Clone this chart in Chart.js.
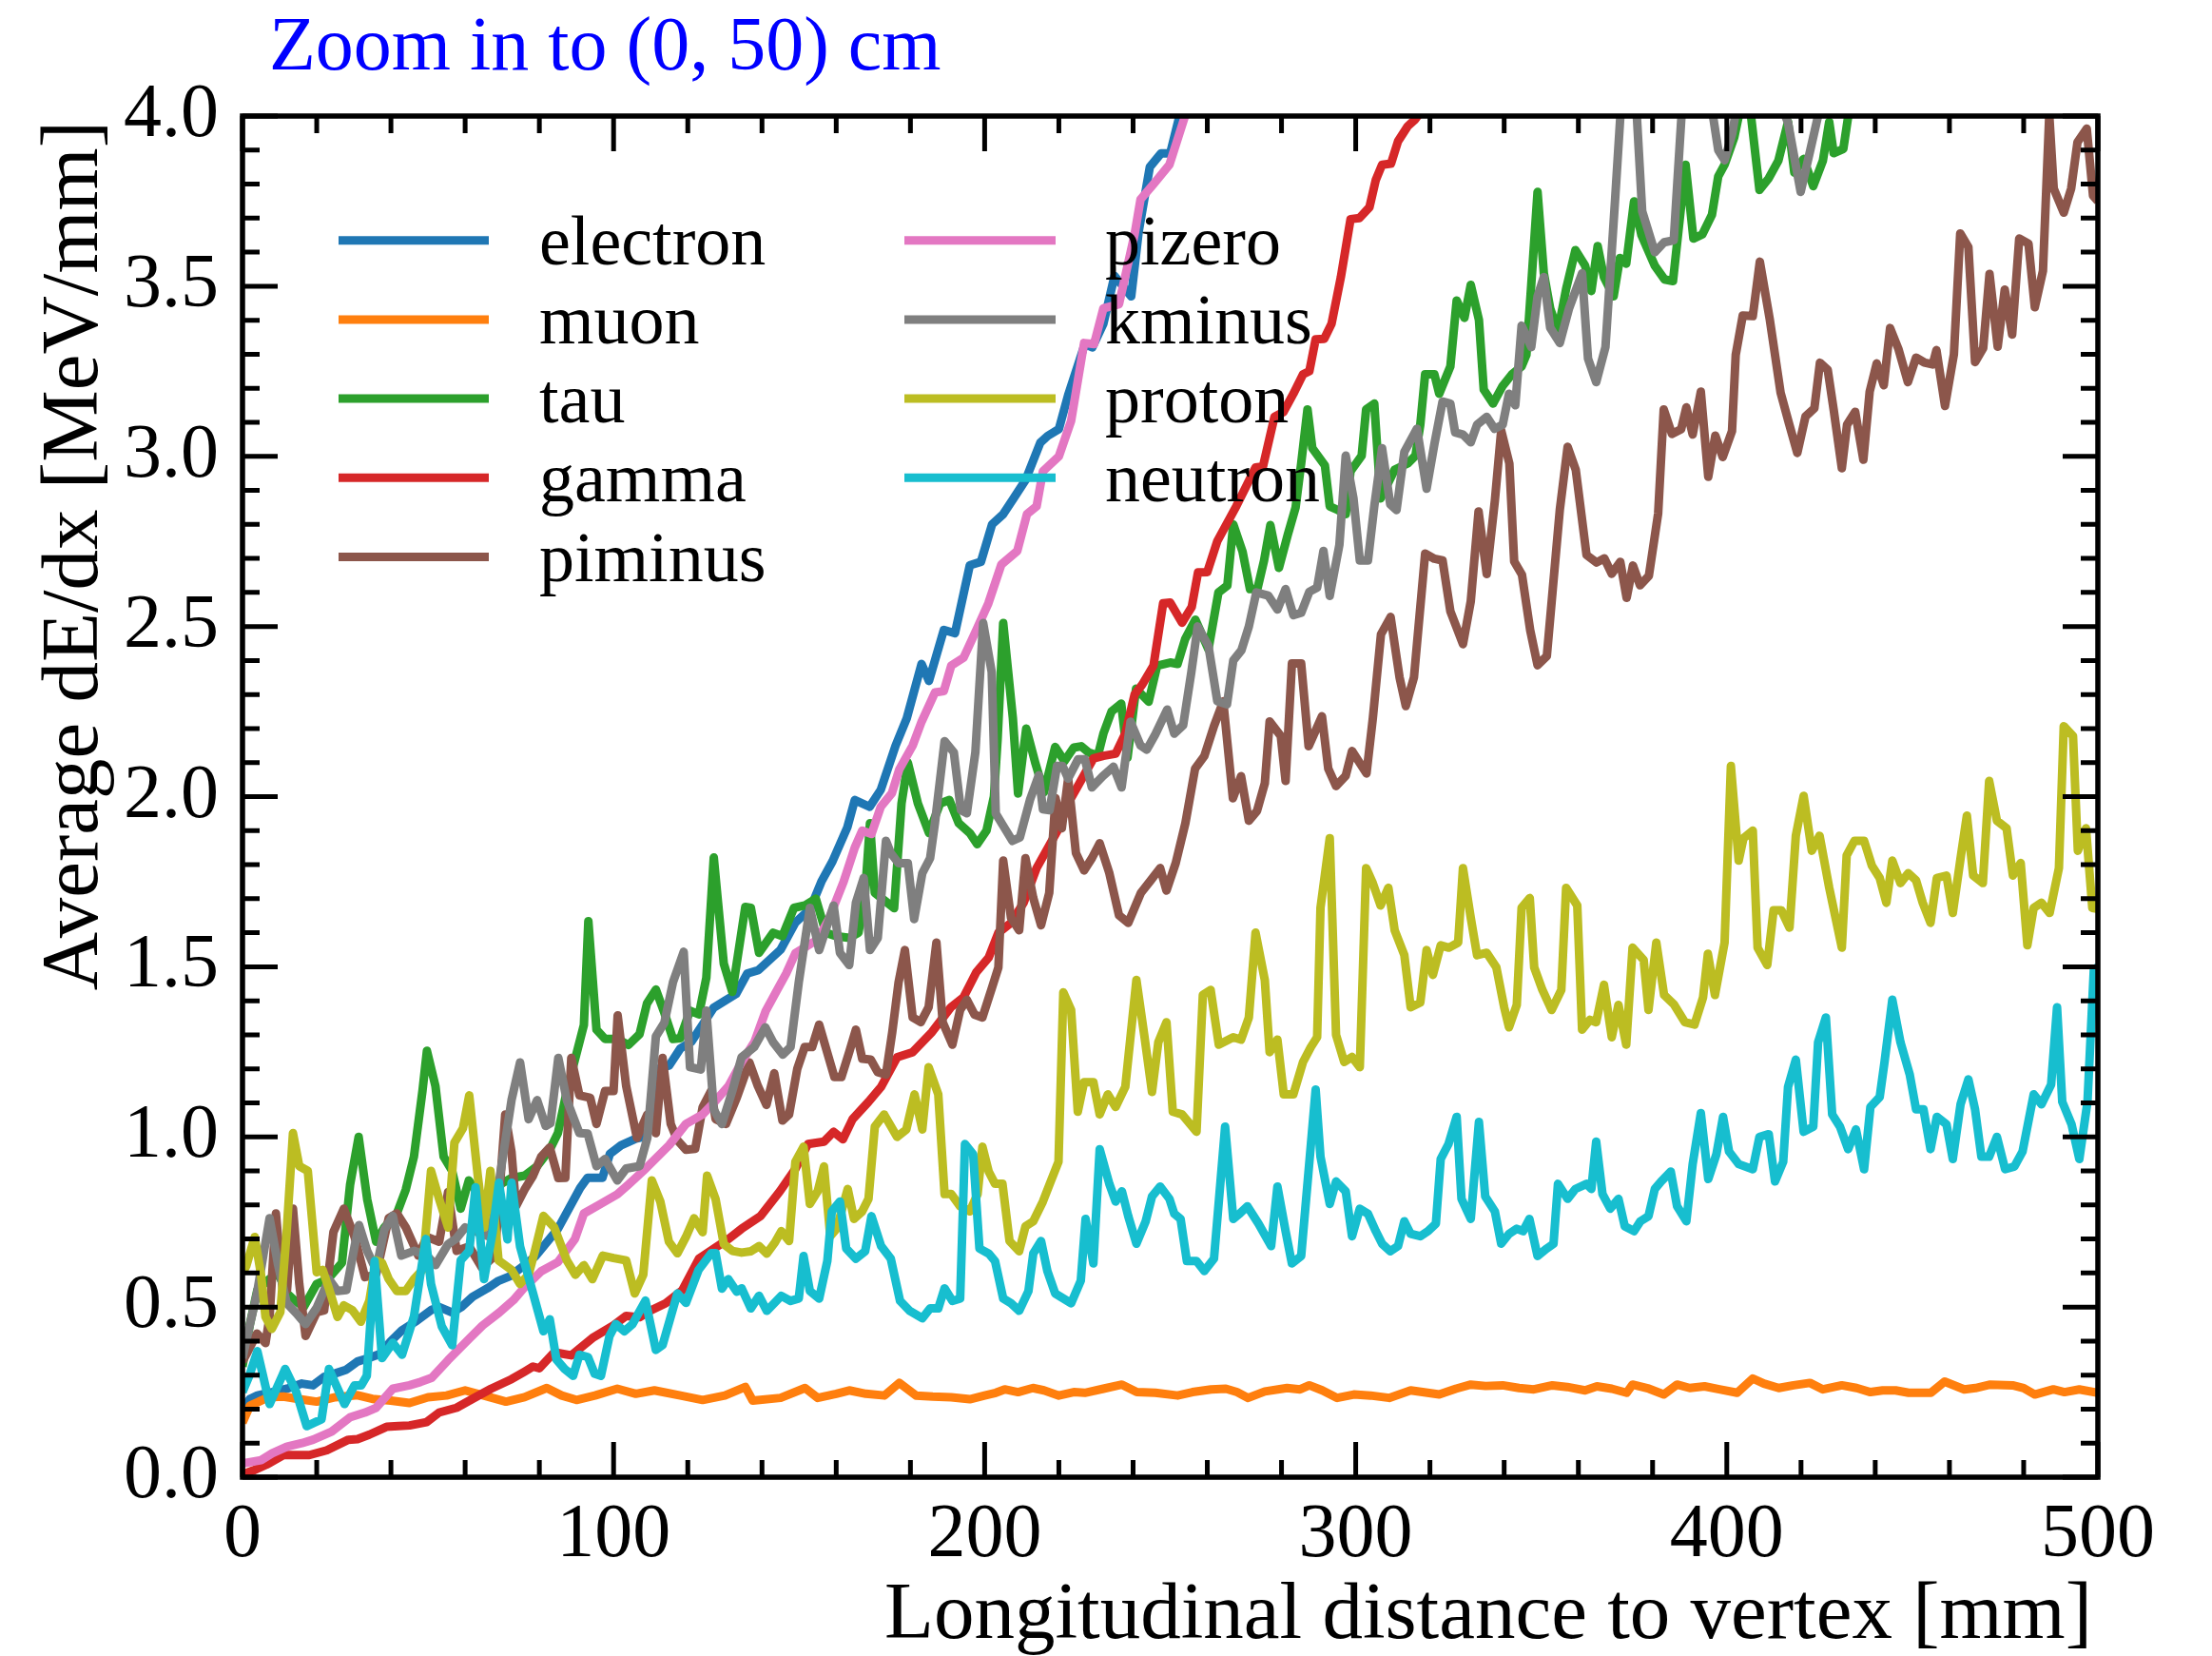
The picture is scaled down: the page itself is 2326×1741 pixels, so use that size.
<!DOCTYPE html>
<html>
<head>
<meta charset="utf-8">
<script src="https://cdn.jsdelivr.net/npm/chart.js@4.4.1/dist/chart.umd.min.js"></script>
<style>
html,body{margin:0;padding:0;background:#ffffff;}
canvas{display:block;}
</style>
</head>
<body>
<canvas id="c" width="2326" height="1741" style="width:2326px;height:1741px"></canvas>
<script>
// ---------------- DATA (x = longitudinal distance [mm], y = average dE/dx [MeV/mm]) ----------------
const titleText = 'Zoom in to (0, 50) cm';
const xTitle = 'Longitudinal distance to vertex [mm]';
const yTitle = 'Average dE/dx [MeV/mm]';
const xTickValues = [0, 100, 200, 300, 400, 500];
const yTickValues = [0, 0.5, 1.0, 1.5, 2.0, 2.5, 3.0, 3.5, 4.0];

const seriesNames = ['electron', 'muon', 'tau', 'gamma', 'piminus', 'pizero', 'kminus', 'proton', 'neutron'];
const seriesColors = ['#1f77b4', '#ff7f0e', '#2ca02c', '#d62728', '#8c564b', '#e377c2', '#7f7f7f', '#bcbd22', '#17becf'];

const electron = [[0,0.20],[2,0.23],[4,0.24],[8,0.25],[12,0.26],[16,0.275],[19,0.27],[22,0.295],[25,0.305],[28,0.316],[31,0.34],[34,0.35],[37,0.362],[40,0.40],[43,0.432],[47,0.46],[51,0.492],[53,0.50],[56.5,0.484],[59,0.50],[62,0.53],[66,0.555],[69,0.577],[72,0.59],[76,0.623],[79,0.65],[82,0.69],[85,0.73],[88,0.79],[91,0.85],[93,0.88],[97,0.88],[99,0.95],[102,0.975],[106,0.995],[108,1.0],[110,1.08],[112,1.2],[115,1.21],[118,1.26],[121,1.28],[124,1.33],[127,1.38],[130,1.40],[133,1.42],[136,1.48],[139,1.49],[142,1.52],[145,1.55],[149,1.63],[153,1.67],[156,1.75],[159,1.81],[163,1.91],[165,1.99],[169,1.97],[172,2.02],[176,2.15],[179,2.23],[183,2.39],[185,2.34],[189,2.49],[192,2.48],[196,2.68],[199,2.69],[202,2.80],[205,2.83],[208,2.88],[211,2.93],[215,3.04],[217,3.06],[220,3.08],[222.5,3.18],[227,3.33],[229,3.32],[232,3.39],[235,3.53],[239.5,3.47],[241.5,3.66],[244.5,3.85],[247.5,3.89],[250,3.89],[252.5,4.0],[256,4.15],[260,4.3]];

const muon = [[0,0.16],[2,0.21],[4,0.22],[7,0.235],[11,0.237],[15,0.23],[20,0.222],[25,0.235],[31,0.241],[35,0.23],[40,0.225],[45,0.218],[50,0.235],[55,0.24],[60,0.255],[65,0.24],[71,0.222],[76,0.235],[82,0.262],[86,0.24],[90,0.227],[95,0.24],[101,0.26],[106,0.245],[111,0.255],[118,0.24],[124,0.227],[130,0.24],[135.5,0.265],[137.5,0.225],[145,0.233],[151.6,0.262],[155,0.233],[160,0.245],[163.5,0.255],[168,0.245],[173,0.24],[177,0.277],[181.5,0.24],[186,0.237],[191,0.235],[196,0.229],[200,0.24],[203,0.248],[205.4,0.258],[209,0.25],[213,0.262],[216,0.255],[220,0.24],[224,0.25],[227,0.248],[232,0.26],[237,0.272],[241,0.25],[246,0.248],[252,0.24],[256,0.25],[261,0.258],[265,0.26],[268,0.25],[271,0.233],[275.5,0.252],[281.5,0.262],[285,0.258],[287.5,0.27],[291,0.255],[295,0.233],[299.5,0.243],[304,0.24],[309,0.233],[314.8,0.255],[318,0.25],[322.5,0.243],[327,0.26],[331,0.272],[335,0.268],[339.6,0.27],[344,0.262],[348,0.258],[353,0.27],[357,0.265],[361.8,0.255],[365,0.267],[369,0.26],[373,0.248],[374.6,0.272],[379,0.26],[383,0.243],[386.6,0.272],[390,0.262],[394,0.267],[398,0.258],[402.8,0.248],[407,0.29],[410,0.275],[414,0.262],[418,0.27],[422.4,0.277],[425.9,0.258],[431,0.27],[435,0.262],[438.7,0.25],[442,0.255],[445.5,0.255],[449,0.248],[455,0.248],[458.7,0.281],[464,0.258],[467,0.262],[471,0.272],[477,0.27],[480,0.262],[483,0.243],[488,0.258],[491,0.25],[495,0.258],[500,0.248]];

const tau = [[0,0.325],[2,0.45],[4,0.55],[7,0.58],[9.6,0.60],[12,0.54],[14,0.52],[16.5,0.50],[20,0.568],[23,0.582],[26.8,0.63],[29,0.86],[31.3,1.0],[33.6,0.817],[36,0.692],[38.2,0.734],[41.6,0.775],[44,0.845],[46.2,0.942],[48.5,1.135],[49.7,1.253],[52,1.149],[54.2,0.942],[56.5,0.90],[58.8,0.789],[61,0.872],[64.5,0.817],[69,0.858],[72.5,0.879],[76,0.886],[79.4,0.914],[82.8,0.962],[85,1.011],[87.4,1.135],[89.7,1.232],[92,1.329],[93.2,1.634],[95.4,1.315],[97.7,1.288],[101,1.288],[104,1.27],[107,1.302],[109,1.392],[111.4,1.433],[113.7,1.364],[116,1.288],[118,1.29],[120.6,1.371],[123,1.36],[125,1.468],[127,1.821],[129.7,1.509],[132,1.426],[135.5,1.676],[137,1.673],[139.2,1.541],[143,1.60],[145.5,1.59],[148.6,1.673],[151.5,1.68],[154.5,1.70],[157.2,1.60],[160,1.59],[163.5,1.585],[166,1.60],[167.8,1.717],[169.1,1.922],[170.4,1.717],[173.8,1.688],[175.6,1.672],[177.6,1.98],[179.3,2.10],[182,1.98],[185,1.893],[188,1.98],[190.5,1.99],[193,1.922],[196,1.893],[198,1.86],[200.5,1.90],[202.5,2.0],[203.5,2.17],[205,2.51],[207.6,2.231],[209,2.009],[211.2,2.20],[213.7,2.097],[216,2.013],[219,2.146],[221.5,2.104],[224,2.144],[226,2.148],[228,2.13],[230.5,2.12],[232,2.185],[234.2,2.25],[236.8,2.273],[238.5,2.115],[240.8,2.317],[244.2,2.279],[246.5,2.385],[250,2.394],[252,2.39],[254,2.462],[256.8,2.52],[260.3,2.433],[263,2.60],[265.4,2.62],[267,2.80],[269.5,2.72],[271.5,2.61],[273.5,2.61],[275.3,2.694],[277,2.798],[279.3,2.672],[281.7,2.77],[283.8,2.85],[285.3,2.979],[287,3.138],[288.3,3.024],[291.7,2.973],[293,2.853],[295.2,2.842],[297.3,2.83],[298.6,2.956],[301.6,3.002],[302.8,3.138],[305,3.155],[306.7,2.876],[310.5,2.961],[314,2.979],[316.1,3.002],[317.4,3.093],[318.7,3.241],[321.2,3.241],[322.5,3.184],[325.5,3.264],[327.2,3.458],[329.3,3.407],[331,3.504],[333.2,3.401],[334.5,3.196],[337,3.155],[339.6,3.207],[342.1,3.241],[344.7,3.264],[346,3.298],[347.3,3.504],[349,3.777],[350.7,3.538],[352.4,3.435],[354.5,3.367],[356.7,3.492],[359.2,3.606],[361.8,3.561],[363.5,3.486],[365.2,3.618],[366.9,3.526],[369.5,3.47],[371.2,3.583],[372.9,3.566],[375,3.749],[377,3.65],[380.6,3.56],[383.2,3.52],[385.5,3.515],[388.9,3.857],[391,3.64],[393.4,3.652],[396,3.71],[397.7,3.823],[399.4,3.857],[402,3.937],[403.6,4.02],[406,4.05],[408.8,3.783],[411.3,3.817],[413.9,3.869],[416.5,3.983],[418.2,3.834],[420.7,3.874],[423.3,3.794],[425.9,3.869],[427.6,3.983],[428.8,3.891],[431.4,3.903],[433,4.02],[436,4.1],[440,4.15],[450,4.2],[460,4.25],[470,4.3],[480,4.3],[490,4.35],[500,4.4]];

const gamma = [[0,0.008],[3,0.02],[6.5,0.037],[11,0.065],[14,0.065],[18,0.065],[22.7,0.079],[28.5,0.11],[31,0.112],[34.2,0.125],[38.8,0.148],[42,0.15],[45,0.152],[49.6,0.162],[53,0.19],[57.7,0.204],[62.3,0.232],[67,0.26],[72.5,0.288],[76,0.31],[78.3,0.325],[80,0.32],[84,0.367],[88.6,0.358],[94.3,0.409],[100,0.446],[103.4,0.474],[107,0.47],[110,0.49],[114,0.511],[118.5,0.549],[123,0.642],[127.5,0.675],[131,0.70],[134.5,0.73],[139.6,0.767],[144.8,0.84],[149,0.906],[152.4,0.979],[156.7,0.986],[159.3,1.015],[161.8,0.993],[164.4,1.052],[168.7,1.103],[172.1,1.147],[176.4,1.234],[180.6,1.249],[185.8,1.308],[190.9,1.381],[194.3,1.41],[197.7,1.483],[201.1,1.527],[203.7,1.60],[207.1,1.629],[210.5,1.688],[214,1.79],[217.4,1.856],[220,1.907],[222.5,1.98],[225.9,2.046],[229.3,2.112],[232,2.12],[235.3,2.126],[237.9,2.185],[240.4,2.30],[242.5,2.33],[245.5,2.385],[248.1,2.568],[250,2.57],[253.2,2.511],[255.8,2.557],[257.5,2.659],[260,2.66],[262.7,2.751],[267.8,2.853],[273,2.967],[275,2.97],[278.1,3.116],[280.5,3.13],[283.2,3.184],[285.8,3.241],[287.5,3.25],[289.2,3.344],[291.5,3.345],[293.5,3.39],[296,3.527],[298.6,3.697],[301,3.70],[303.7,3.732],[305.4,3.812],[307.1,3.857],[309.5,3.86],[311.4,3.926],[314,3.97],[316,3.99],[318,4.02],[322,4.2],[326,4.35]];

const piminus = [[0,0.34],[1,0.36],[3.9,0.422],[6.2,0.394],[7.3,0.471],[9,0.775],[10.8,0.554],[12,0.55],[13.6,0.789],[15.3,0.568],[17,0.415],[20,0.485],[22,0.49],[24.5,0.72],[27.3,0.789],[30.2,0.706],[33,0.588],[36,0.595],[39.4,0.761],[41.6,0.775],[44,0.734],[47.4,0.651],[49.7,0.706],[53,0.692],[55.4,0.838],[57.7,0.665],[61.1,0.678],[64.5,0.616],[68,0.651],[70.8,1.066],[72.5,0.955],[73.7,0.796],[76,0.845],[78.3,0.886],[80.5,0.942],[82.8,0.969],[85.1,0.879],[87,0.88],[88.6,1.232],[90.8,1.122],[93.7,1.115],[95.4,1.038],[97.7,1.135],[100,1.135],[101.1,1.357],[103.4,1.149],[106.3,0.997],[109.1,1.066],[111.4,1.011],[113.2,1.232],[115.4,1.038],[117.2,0.99],[119.5,0.962],[122,0.965],[124,1.087],[126.3,1.135],[127.5,1.052],[130.3,1.038],[133.2,1.115],[136.6,1.219],[138.9,1.149],[141.2,1.094],[143.3,1.187],[145.5,1.048],[147.3,1.066],[149.5,1.2],[151.5,1.264],[153.5,1.264],[155.4,1.33],[157.8,1.24],[159.5,1.176],[161.4,1.176],[163.5,1.249],[165.3,1.315],[167,1.23],[169.3,1.227],[171.2,1.19],[173.4,1.183],[175.1,1.308],[176.8,1.454],[178.5,1.549],[180.6,1.351],[182.8,1.337],[184.9,1.381],[187,1.571],[188.7,1.337],[191.3,1.271],[193.4,1.373],[195.2,1.403],[197.3,1.359],[199.4,1.351],[202,1.439],[203.7,1.498],[205,1.812],[207.1,1.644],[209.3,1.607],[211,1.819],[213.1,1.702],[215.2,1.622],[217.4,1.717],[219.1,1.995],[220.8,1.907],[222.5,2.053],[224.6,1.834],[226.8,1.783],[228.9,1.819],[231,1.863],[233.6,1.775],[236.2,1.651],[238.7,1.629],[242.1,1.717],[244.7,1.753],[247.3,1.79],[249,1.724],[251.5,1.805],[254.1,1.922],[256.7,2.082],[259.2,2.119],[261.8,2.207],[264.3,2.28],[266.9,1.995],[269.1,2.06],[271.2,1.929],[273.4,1.958],[275.5,2.039],[276.8,2.221],[279.8,2.178],[281.1,2.046],[282.8,2.391],[285.3,2.391],[287.3,2.148],[290.9,2.236],[292.6,2.082],[294.7,2.031],[297.3,2.061],[299,2.134],[302.9,2.068],[304.6,2.229],[306.8,2.477],[309.4,2.528],[311.8,2.351],[313.5,2.266],[315.7,2.351],[318.7,2.714],[321.2,2.699],[323.4,2.694],[325.5,2.545],[328.9,2.448],[331,2.574],[333.1,2.838],[335.3,2.654],[337.5,2.87],[339.2,3.076],[341.4,2.979],[342.7,2.691],[344.8,2.652],[347,2.49],[349,2.386],[351.5,2.413],[353.1,2.61],[355,2.843],[357.1,3.028],[359.3,2.96],[362.2,2.71],[364.9,2.688],[367,2.7],[369,2.655],[371.3,2.69],[373,2.584],[374.7,2.679],[376.6,2.621],[379,2.649],[381.5,2.832],[383,3.138],[385.2,3.066],[387.7,3.08],[389.1,3.144],[390.8,3.064],[393,3.19],[395,2.94],[396.9,3.061],[398.9,2.998],[401.4,3.074],[402.4,3.298],[404.3,3.414],[407,3.412],[408.9,3.572],[411.6,3.401],[414.5,3.187],[416.8,3.095],[419,3.01],[421.2,3.117],[423.6,3.141],[425.1,3.275],[427.2,3.254],[428.8,3.137],[431,2.965],[432.4,3.093],[434.6,3.131],[436.8,2.99],[438.5,3.19],[440.4,3.273],[442.3,3.209],[444,3.377],[446.3,3.314],[448.8,3.218],[451,3.29],[453.2,3.276],[455.5,3.27],[456.5,3.312],[458.8,3.148],[461.2,3.3],[462.9,3.655],[465.1,3.615],[466.9,3.277],[469.1,3.318],[470.8,3.536],[473,3.322],[474.9,3.49],[476.9,3.358],[478.8,3.64],[481.3,3.625],[483,3.438],[485.2,3.545],[486.9,4.004],[488.1,3.787],[490.8,3.716],[492.8,3.787],[494.5,3.923],[497,3.963],[498.7,3.766],[500,3.75]];

const pizero = [[0,0.04],[5,0.05],[8,0.07],[12,0.09],[16,0.10],[19,0.11],[24,0.134],[29,0.176],[33,0.19],[36,0.204],[40.5,0.26],[45,0.27],[48,0.28],[51,0.292],[55.4,0.344],[61.3,0.409],[64.7,0.446],[69.2,0.484],[73,0.52],[76,0.558],[80.5,0.605],[85,0.632],[89.6,0.70],[92,0.775],[96,0.80],[101,0.831],[104,0.86],[108,0.90],[115,0.976],[119.5,1.038],[124,1.066],[127,1.10],[131,1.15],[134.5,1.22],[138,1.28],[141,1.37],[144,1.43],[146.5,1.48],[149,1.54],[152,1.56],[155,1.58],[158,1.64],[162,1.75],[165,1.85],[167,1.90],[169.5,1.89],[172,1.97],[175,2.01],[177,2.08],[180.6,2.15],[183,2.22],[186.6,2.306],[189,2.31],[191,2.385],[194.3,2.408],[197.7,2.488],[201,2.568],[204.5,2.682],[208.8,2.722],[211.4,2.83],[214,2.853],[215.7,2.956],[220,3.0],[223.3,3.104],[226.8,3.333],[229.5,3.33],[232,3.435],[236.2,3.447],[240.4,3.652],[242,3.755],[245.5,3.80],[249.8,3.857],[254,4.0],[258,4.15],[262,4.3]];

const kminus = [[0,0.35],[1,0.40],[3.9,0.54],[7.3,0.761],[9.6,0.623],[11.9,0.512],[14.8,0.478],[17,0.45],[20,0.498],[23.3,0.582],[25.6,0.547],[28,0.55],[30.2,0.678],[31.4,0.741],[33.6,0.665],[36,0.609],[38.2,0.727],[40.5,0.768],[42.8,0.651],[46.2,0.665],[49.7,0.651],[52,0.623],[55.4,0.685],[57.5,0.70],[60,0.734],[63.4,0.72],[66.8,0.706],[69,0.858],[72.5,1.108],[74.8,1.219],[77.1,1.052],[79.4,1.108],[81.7,1.032],[83,1.04],[85.1,1.232],[87.4,1.108],[90.8,1.011],[93,1.01],[95.4,0.914],[97.7,0.935],[101,0.872],[103.4,0.907],[107,0.914],[109.1,0.997],[111.4,1.295],[113.7,1.336],[116,1.454],[118.9,1.544],[120.6,1.205],[123.5,1.198],[125,1.371],[127,1.08],[129.2,1.038],[132,1.135],[134.5,1.234],[137.9,1.264],[140.9,1.322],[143,1.278],[145.6,1.242],[147.7,1.264],[149.9,1.454],[152.9,1.673],[155.4,1.549],[159.3,1.68],[161,1.541],[163.5,1.505],[165.3,1.688],[167.4,1.761],[169.1,1.549],[171.2,1.585],[173.4,1.87],[174.7,1.834],[176.8,1.804],[179.3,1.804],[181,1.64],[183.2,1.775],[185.3,1.819],[186.6,1.922],[189.2,2.163],[191.7,2.13],[193.6,1.96],[195.2,1.951],[197.5,2.13],[199.6,2.51],[201.9,2.366],[203,1.95],[205.4,1.907],[207.5,1.87],[209.5,1.88],[212.2,1.99],[214.6,2.063],[215.7,1.963],[217.5,1.96],[219.5,2.09],[221,2.09],[222.5,2.053],[225.2,2.11],[227,2.11],[228.9,2.027],[231.8,2.06],[234.7,2.088],[236.9,2.027],[239.3,2.22],[242,2.15],[243.7,2.138],[246,2.183],[249.2,2.256],[251.1,2.185],[253.5,2.21],[255.7,2.366],[257.4,2.50],[260.3,2.443],[262.7,2.28],[265.3,2.271],[267,2.40],[269.2,2.43],[271.2,2.50],[273.2,2.60],[276.4,2.591],[278.9,2.55],[281.1,2.61],[283.2,2.533],[285.3,2.54],[287.5,2.602],[289.6,2.614],[291.3,2.722],[293,2.59],[295.6,2.74],[297.3,3.002],[299.4,2.876],[301.1,2.694],[303.3,2.694],[305,2.853],[307.1,3.024],[309.3,2.859],[311,2.842],[313.1,3.013],[316.5,3.081],[319.1,2.905],[321.2,3.036],[323.4,3.161],[325.5,3.155],[326.8,3.07],[328.9,3.064],[331,3.041],[332.7,3.093],[335.3,3.116],[337.4,3.081],[339.6,3.093],[341.3,3.184],[343,3.15],[344.7,3.384],[347.3,3.321],[349,3.47],[350.7,3.527],[352.4,3.378],[355,3.333],[357.5,3.435],[361,3.538],[362.6,3.287],[364.8,3.218],[367.3,3.321],[369.9,3.755],[371.6,4.05],[373.5,4.2],[375.5,4.05],[377.2,3.72],[380.6,3.60],[383.1,3.629],[385.7,3.635],[387.9,4.02],[390,4.2],[394,4.2],[396,4.02],[397.7,3.90],[399.4,3.87],[401.5,3.95],[403,4.05],[408,4.2],[414,4.05],[416.5,3.98],[419.9,3.777],[422.5,3.9],[425,4.02],[430,4.2],[440,4.3],[460,4.4],[480,4.45],[500,4.5]];

const proton = [[0,0.60],[1,0.62],[3.3,0.706],[5,0.595],[6.2,0.471],[7.9,0.436],[10.2,0.485],[11.9,0.72],[13.6,1.011],[15.3,0.914],[17.6,0.90],[20,0.602],[21.6,0.609],[23.3,0.554],[25.6,0.471],[27.3,0.505],[29.6,0.491],[31.9,0.457],[34.2,0.519],[36,0.637],[37.6,0.63],[39.4,0.582],[41.6,0.547],[44,0.547],[46.2,0.582],[48.5,0.609],[50.8,0.90],[53,0.817],[55.4,0.734],[57.1,0.983],[59.4,1.025],[61.1,1.122],[63.4,0.886],[65.1,0.734],[66.8,0.90],[69,0.637],[72.5,0.609],[74.8,0.568],[77.1,0.595],[78.8,0.665],[81.1,0.768],[84,0.734],[87.4,0.637],[89.7,0.595],[92,0.623],[94.3,0.582],[97.1,0.651],[100,0.644],[103.4,0.637],[105.7,0.54],[108,0.595],[110.3,0.872],[112.6,0.81],[114.9,0.692],[117.2,0.658],[119.5,0.706],[121.7,0.761],[124,0.72],[125.2,0.886],[127.5,0.817],[129.7,0.685],[132,0.665],[134.5,0.66],[137,0.664],[139.2,0.679],[141.3,0.657],[143.5,0.69],[145.2,0.723],[147.3,0.694],[149,0.927],[151.2,0.971],[152.9,0.803],[155,0.84],[156.7,0.913],[158.4,0.708],[160.1,0.73],[163.1,0.847],[164.8,0.759],[167,0.781],[168.7,0.818],[170.4,1.03],[172.9,1.066],[176.4,1.0],[178.9,1.022],[181.1,1.125],[183.2,1.022],[184.9,1.205],[187.5,1.125],[189.2,0.832],[191,0.832],[193.4,0.796],[196,0.781],[198.1,0.832],[199.4,0.971],[201.1,0.898],[202.8,0.862],[204.8,0.862],[206.7,0.694],[209.3,0.664],[211,0.737],[213.1,0.752],[215.7,0.81],[217.8,0.869],[219.9,0.927],[221.2,1.425],[223.3,1.373],[225.1,1.074],[226.8,1.161],[229.3,1.161],[231,1.066],[233.2,1.125],[235.3,1.088],[237.9,1.147],[240.9,1.461],[243,1.30],[245.1,1.132],[246.8,1.278],[249,1.337],[250.7,1.074],[253.2,1.066],[257.1,1.015],[258.8,1.417],[260.9,1.432],[263.1,1.271],[267,1.293],[269.1,1.286],[271.2,1.351],[273,1.60],[275.5,1.461],[276.8,1.249],[278.9,1.286],[280.6,1.125],[283.2,1.125],[285.8,1.22],[287.9,1.264],[289.6,1.293],[290.5,1.673],[293,1.878],[294.7,1.30],[296.9,1.22],[299,1.235],[301.1,1.205],[302.8,1.79],[304.6,1.746],[306.7,1.68],[308.8,1.732],[310.5,1.607],[313.1,1.534],[314.8,1.381],[317.4,1.395],[319.1,1.549],[320.8,1.476],[322.9,1.563],[325.1,1.556],[327.6,1.571],[328.9,1.79],[331,1.644],[332.7,1.534],[335.3,1.541],[337.9,1.498],[340,1.381],[341.3,1.322],[343.4,1.388],[344.7,1.673],[346.9,1.702],[348.1,1.498],[350.3,1.432],[352.8,1.373],[355.4,1.432],[356.7,1.732],[359.7,1.68],[361,1.315],[363.1,1.344],[364.8,1.337],[366.9,1.447],[369,1.293],[370.8,1.388],[372.9,1.271],[374.6,1.556],[377.6,1.52],[378.9,1.373],[381,1.571],[383.1,1.417],[385.7,1.39],[388.7,1.337],[391.3,1.33],[393.6,1.41],[394.9,1.538],[396.8,1.417],[399.4,1.571],[401.1,2.09],[403.2,1.812],[404.5,1.878],[407,1.90],[408.3,1.556],[410.9,1.505],[412.6,1.666],[414.7,1.666],[416.9,1.615],[418.6,1.885],[420.7,2.002],[422.9,1.841],[425,1.885],[427.6,1.732],[431,1.556],[432.3,1.827],[434.4,1.87],[437,1.87],[439.1,1.797],[441.2,1.761],[443,1.688],[444.6,1.812],[446.8,1.746],[448.9,1.775],[451,1.754],[452.8,1.688],[454.9,1.629],[456.6,1.761],[459.2,1.768],[460.9,1.658],[463,1.819],[464.7,1.944],[466.4,1.768],[469,1.746],[470.7,2.046],[472.8,1.929],[475.4,1.907],[477.1,1.768],[479.2,1.805],[481,1.563],[482.7,1.673],[484.8,1.688],[487,1.658],[489.5,1.79],[490.8,2.207],[493.3,2.178],[494.6,1.841],[496.8,1.907],[498.5,1.673],[500,1.67]];

const neutron = [[0,0.25],[1.9,0.30],[4,0.37],[7.3,0.215],[10.8,0.30],[11.5,0.318],[14.5,0.25],[17.3,0.15],[21.3,0.17],[23.3,0.318],[27.5,0.215],[30.2,0.27],[32,0.27],[33.5,0.298],[35.6,0.635],[37.6,0.35],[40.5,0.395],[43,0.36],[46.2,0.472],[49.4,0.70],[50.8,0.568],[53.7,0.443],[56.5,0.388],[58.8,0.637],[61.1,0.665],[62.8,0.852],[65.1,0.582],[67.4,0.72],[69.1,0.865],[71.4,0.699],[72.5,0.865],[74.8,0.678],[78.3,0.54],[81.1,0.429],[82.8,0.464],[84.6,0.346],[86.8,0.318],[89.1,0.298],[90.8,0.36],[93.1,0.353],[94.9,0.304],[96.6,0.298],[98.9,0.415],[100.6,0.45],[102.9,0.429],[105.1,0.45],[108.6,0.519],[111.4,0.374],[113.2,0.388],[117.2,0.54],[119.5,0.512],[122.9,0.609],[126.3,0.658],[127.5,0.658],[129.2,0.554],[130.9,0.582],[133.2,0.545],[134.5,0.555],[137,0.496],[139.2,0.533],[141.3,0.489],[145.2,0.533],[147.7,0.518],[149.9,0.525],[151.2,0.65],[152.9,0.547],[155.4,0.525],[157.6,0.635],[158.8,0.781],[161,0.81],[162.7,0.672],[165.3,0.642],[167.8,0.664],[169.5,0.767],[172.1,0.679],[174.7,0.642],[177.2,0.518],[179.8,0.489],[183.2,0.467],[185.3,0.496],[187.5,0.496],[189.2,0.555],[191.3,0.518],[193.4,0.525],[194.7,0.979],[196.9,0.949],[198.6,0.672],[201.1,0.657],[202.8,0.635],[205,0.525],[207.1,0.511],[209.3,0.489],[211.8,0.547],[213.1,0.657],[215.2,0.694],[216.9,0.606],[219,0.54],[223.3,0.511],[225.9,0.577],[227.2,0.759],[229.3,0.628],[231,0.964],[233.6,0.862],[235.3,0.81],[237,0.84],[238.7,0.767],[240.9,0.686],[243.4,0.752],[245.1,0.825],[247.3,0.854],[249.8,0.818],[251.1,0.774],[252.8,0.759],[254.5,0.635],[257.1,0.635],[259.2,0.606],[261.8,0.642],[264.8,1.03],[267,0.759],[268.7,0.774],[270.8,0.796],[273.8,0.745],[277.2,0.679],[278.9,0.854],[281.1,0.723],[282.8,0.628],[285.3,0.65],[289.2,1.139],[290.5,0.942],[293,0.803],[294.7,0.869],[297.3,0.84],[299,0.708],[301.1,0.789],[303.3,0.774],[305.4,0.723],[307.1,0.686],[309.3,0.664],[311.4,0.679],[313.1,0.752],[314.8,0.715],[317.4,0.708],[319.5,0.723],[321.6,0.745],[322.9,0.935],[325,0.979],[327.2,1.059],[328.5,0.818],[331,0.759],[333.2,1.044],[334.9,0.825],[337.5,0.781],[339.2,0.686],[341.3,0.715],[343.4,0.73],[345.1,0.723],[346.8,0.759],[349,0.65],[351.5,0.672],[353.3,0.686],[354.5,0.862],[357.1,0.818],[359.2,0.847],[362.2,0.862],[363.5,0.847],[364.8,0.986],[366.5,0.832],[368.6,0.789],[370.8,0.818],[372.5,0.737],[375,0.723],[376.7,0.752],[378.9,0.767],[380.6,0.847],[382.3,0.869],[384.9,0.898],[386.6,0.796],[389.1,0.752],[390.8,0.92],[393,1.07],[395,0.876],[397.2,0.949],[399,1.059],[400.6,0.957],[403.2,0.92],[407,0.905],[408.8,1.0],[411.3,1.008],[413,0.869],[415.2,0.927],[416.5,1.147],[418.6,1.227],[420.7,1.015],[423.3,1.03],[424.6,1.278],[426.7,1.351],[428.4,1.066],[430.5,1.03],[432.7,0.964],[434.8,1.022],[437,0.905],[438.7,1.088],[441.2,1.117],[442.5,1.22],[444.6,1.403],[446.8,1.278],[449.3,1.183],[451,1.081],[453,1.081],[454.9,0.964],[456.6,1.059],[459.2,1.037],[460.9,0.935],[463,1.096],[465.1,1.169],[466.9,1.081],[468.6,0.942],[470.7,0.942],[472.8,1.0],[475,0.905],[477.5,0.913],[479.7,0.957],[482.7,1.125],[484.8,1.096],[487.4,1.154],[489,1.381],[490.4,1.103],[492.9,1.037],[495,0.935],[497.2,1.103],[498.9,1.49],[500,1.50]];

const seriesData = [electron, muon, tau, gamma, piminus, pizero, kminus, proton, neutron];

// ---------------- STYLE ----------------
const SERIF = "'Liberation Serif', 'DejaVu Serif', serif";
const LINE_W = 9;

const datasets = seriesNames.map((name, i) => ({
  label: name,
  data: seriesData[i].map(p => ({x: p[0], y: p[1]})),
  borderColor: seriesColors[i],
  backgroundColor: seriesColors[i],
  borderWidth: LINE_W,
  pointRadius: 0,
  pointHoverRadius: 0,
  tension: 0,
  fill: false,
  borderJoinStyle: 'round',
  borderCapStyle: 'butt',
  clip: 0,
  order: seriesNames.length - 1 - i
}));

const decorPlugin = {
  id: 'decor',
  afterDatasetsDraw(chart) {
    const ctx = chart.ctx, a = chart.chartArea;
    const xs = chart.scales.x, ys = chart.scales.y;
    ctx.save();
    ctx.strokeStyle = '#000';
    ctx.lineCap = 'butt';
    ctx.lineWidth = 5;
    ctx.beginPath();
    for (let k = 0; k <= 25; k++) {
      const v = k * 20;
      const len = (k % 5 === 0) ? 37 : 18;
      const px = xs.getPixelForValue(v);
      ctx.moveTo(px, a.bottom); ctx.lineTo(px, a.bottom - len);
      ctx.moveTo(px, a.top); ctx.lineTo(px, a.top + len);
    }
    for (let k = 0; k <= 40; k++) {
      const v = k / 10;
      const len = (k % 5 === 0) ? 37 : 18;
      const py = ys.getPixelForValue(v);
      ctx.moveTo(a.left, py); ctx.lineTo(a.left + len, py);
      ctx.moveTo(a.right, py); ctx.lineTo(a.right - len, py);
    }
    ctx.stroke();
    ctx.lineWidth = 5.5;
    ctx.strokeRect(a.left, a.top, a.right - a.left, a.bottom - a.top);
    ctx.restore();
  },
  afterDraw(chart) {
    const ctx = chart.ctx, a = chart.chartArea;
    ctx.save();
    // title
    ctx.fillStyle = '#0000ff';
    ctx.font = '80px ' + SERIF;
    ctx.textAlign = 'left';
    ctx.textBaseline = 'alphabetic';
    ctx.fillText(titleText, 283, 73);
    // x axis title
    ctx.fillStyle = '#000';
    ctx.font = '85px ' + SERIF;
    ctx.textAlign = 'right';
    ctx.fillText(xTitle, a.right - 6, 1722);
    // y axis title
    ctx.save();
    ctx.translate(102, a.top + 5);
    ctx.rotate(-Math.PI / 2);
    ctx.textAlign = 'right';
    ctx.fillText(yTitle, 0, 0);
    ctx.restore();
    // legend (two columns)
    ctx.font = '74px ' + SERIF;
    ctx.textAlign = 'left';
    const rowY0 = 252.7, rowDy = 83.2;
    const cols = [{x0: 356, x1: 514, tx: 567}, {x0: 951, x1: 1110, tx: 1162}];
    seriesNames.forEach((name, i) => {
      const c = cols[i < 5 ? 0 : 1];
      const r = i < 5 ? i : i - 5;
      const yy = rowY0 + r * rowDy;
      ctx.strokeStyle = seriesColors[i];
      ctx.lineWidth = 9;
      ctx.lineCap = 'butt';
      ctx.beginPath();
      ctx.moveTo(c.x0, yy); ctx.lineTo(c.x1, yy);
      ctx.stroke();
      ctx.fillStyle = '#000';
      ctx.fillText(name, c.tx, yy + 25);
    });
    ctx.restore();
  }
};

new Chart(document.getElementById('c'), {
  type: 'line',
  data: { datasets },
  options: {
    responsive: false,
    maintainAspectRatio: false,
    devicePixelRatio: 1,
    animation: false,
    events: [],
    layout: { padding: { left: 0, right: 120, top: 122, bottom: 0 } },
    plugins: { legend: { display: false }, tooltip: { enabled: false }, title: { display: false } },
    scales: {
      x: {
        type: 'linear', min: 0, max: 500,
        afterFit: s => { s.height = 188; },
        afterBuildTicks: s => { s.ticks = xTickValues.map(v => ({value: v})); },
        grid: { display: false, drawTicks: false },
        border: { display: false },
        ticks: { color: '#000', font: { family: SERIF, size: 80 }, padding: 14, maxRotation: 0, autoSkip: false, callback: v => String(v) }
      },
      y: {
        type: 'linear', min: 0, max: 4,
        afterFit: s => { s.width = 255; },
        afterBuildTicks: s => { s.ticks = yTickValues.map(v => ({value: v})); },
        grid: { display: false, drawTicks: false },
        border: { display: false },
        ticks: { color: '#000', font: { family: SERIF, size: 80 }, padding: 25, autoSkip: false, callback: v => Number(v).toFixed(1) }
      }
    }
  },
  plugins: [decorPlugin]
});
</script>
</body>
</html>
